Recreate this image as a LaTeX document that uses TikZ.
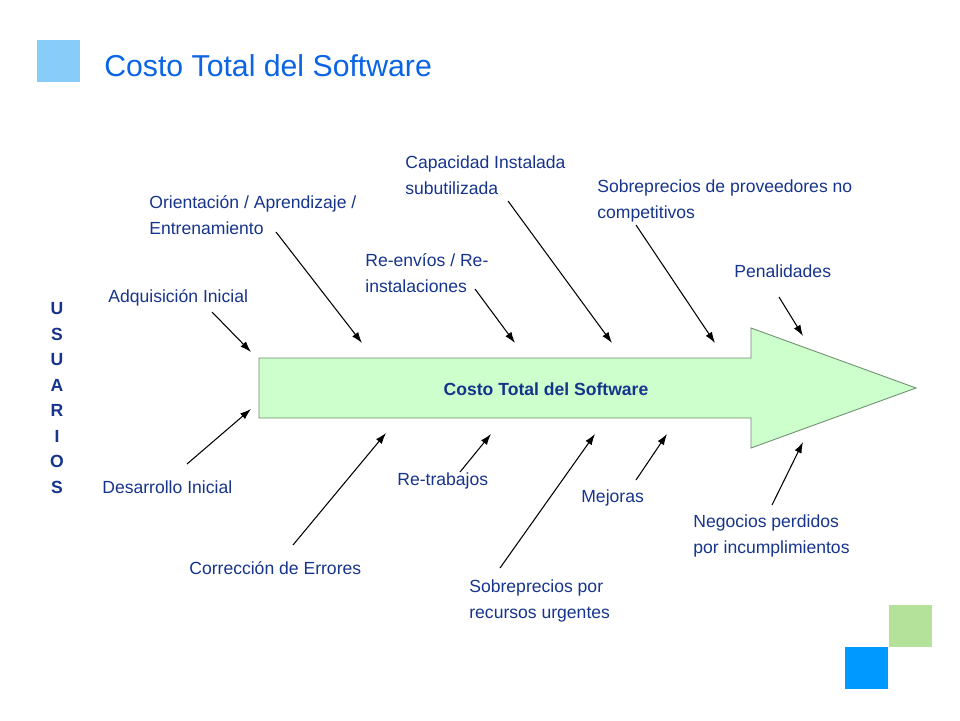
\documentclass[tikz,border=0pt]{standalone}
\usepackage{fontspec}
\setmainfont{Liberation Sans}
\usetikzlibrary{arrows.meta}
\definecolor{azultexto}{RGB}{22,52,140}
\definecolor{azultitulo}{RGB}{10,100,228}
\definecolor{celeste}{RGB}{136,204,250}
\definecolor{verdeflecha}{RGB}{204,255,204}
\definecolor{bordeflecha}{RGB}{110,140,110}
\definecolor{verdecuadro}{RGB}{180,226,154}
\definecolor{azulcuadro}{RGB}{0,153,255}
\begin{document}
\begin{tikzpicture}[x=0.02cm,y=-0.02cm]
\tikzset{lbl/.style={anchor=base west, inner sep=0pt, align=left, text=azultexto,
                     font=\fontsize{10}{14.4}\selectfont},
         flecha/.style={-{Latex[length=2.2mm,width=1.5mm]}, line width=0.6pt}}
\useasboundingbox (0,0) rectangle (960,720);
% cuadros decorativos
\fill[celeste] (37,40) rectangle (80,82);
\fill[verdecuadro] (889,605) rectangle (932,647);
\fill[azulcuadro] (845,647) rectangle (888,689);
\node[anchor=base west, inner sep=0pt, text=azultitulo, font=\fontsize{17.2}{20}\selectfont]
     (titulo) at (104,76) {Costo Total del Software};
% flecha central
\draw[fill=verdeflecha, draw=bordeflecha, line width=0.5pt]
     (259,358) -- (751,358) -- (751,328) -- (916,388) -- (751,448) -- (751,418) -- (259,418) -- cycle;
\node[inner sep=0pt, text=azultexto, font=\fontsize{10}{12}\bfseries] (costo) at (546,389) {Costo Total del Software};
\node[inner sep=0pt, align=center, text=azultexto, font=\fontsize{10}{14.5}\bfseries]
     (usuarios) at (57,398) {U\\S\\U\\A\\R\\I\\O\\S};
% causas (en las de dos lineas, la base es la de la segunda)
\node[lbl] (adq) at (108,302) {Adquisición Inicial};
\node[lbl] (des) at (102,493) {Desarrollo Inicial};
\node[lbl] (ori) at (149,234) {Orientación / Aprendizaje /\\Entrenamiento};
\node[lbl] (cor) at (189,574) {Corrección de Errores};
\node[lbl] (ree) at (365,292) {Re-envíos / Re-\\instalaciones};
\node[lbl] (ret) at (397,485) {Re-trabajos};
\node[lbl] (cap) at (405,194) {Capacidad Instalada\\subutilizada};
\node[lbl] (sru) at (469,618) {Sobreprecios por\\recursos urgentes};
\node[lbl] (spr) at (597,218) {Sobreprecios de proveedores no\\competitivos};
\node[lbl] (mej) at (581,502) {Mejoras};
\node[lbl] (pen) at (734,277) {Penalidades};
\node[lbl] (neg) at (693,553) {Negocios perdidos\\por incumplimientos};
% extremos de las flechas
\coordinate (adq-i) at (212,312); \coordinate (adq-f) at (251,352);
\coordinate (des-i) at (187,464); \coordinate (des-f) at (251,409);
\coordinate (ori-i) at (276,232); \coordinate (ori-f) at (362,343);
\coordinate (cor-i) at (293,545); \coordinate (cor-f) at (386,433);
\coordinate (ree-i) at (475,289); \coordinate (ree-f) at (515,343);
\coordinate (ret-i) at (460,472); \coordinate (ret-f) at (491,434);
\coordinate (cap-i) at (508,201); \coordinate (cap-f) at (612,343);
\coordinate (sru-i) at (500,568); \coordinate (sru-f) at (595,434);
\coordinate (spr-i) at (636,225); \coordinate (spr-f) at (715,343);
\coordinate (mej-i) at (636,480); \coordinate (mej-f) at (667,434);
\coordinate (pen-i) at (779,297); \coordinate (pen-f) at (803,336);
\coordinate (neg-i) at (772,505); \coordinate (neg-f) at (803,442);
\foreach \c in {adq,des,ori,cor,ree,ret,cap,sru,spr,mej,pen,neg}
  \draw[flecha] (\c-i) -- (\c-f);
\end{tikzpicture}
\end{document}
